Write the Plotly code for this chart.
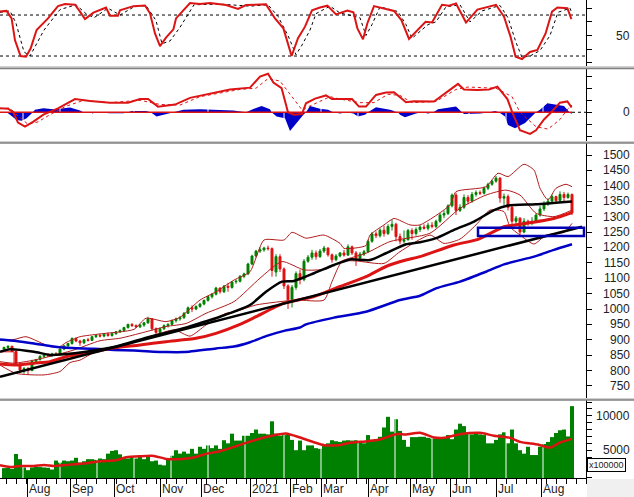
import plotly.graph_objects as go

W, H = 634, 497

# stochastic pane
STOCH_DAY = [0, 3.3, 5.8, 7.5, 10.3, 13, 15.3, 18.3, 24, 29, 32.5, 37.5, 40, 42.5, 46.7, 53, 55, 59, 60, 66.7, 72.5, 75, 77.5, 80, 83, 86.7, 88, 95, 100, 105, 113, 119, 123, 133, 137.5, 141.7, 145.8, 149, 152.5, 156, 160,
             163.7, 168, 173.7, 176.7, 178.7, 181.5, 183.7, 187, 197, 200.7, 204.5, 212.8, 216, 221, 224.5, 228, 233, 238.7, 248, 252, 255.3, 257.8, 261, 265, 268.7, 272.8, 276, 278.7, 283.7, 285.7]
STOCH_K = [85, 86, 75, 43, 20, 19, 31, 58, 75, 93, 96, 95, 85, 74, 83.5, 91, 79, 79, 87, 93, 94, 82.5, 53, 34.6, 47, 59, 75, 97.6, 96, 97.6, 94.7, 89, 94.7, 95.6, 75, 60.5, 20, 46, 63, 87, 91,
           93.7, 81, 86.4, 84, 60.5, 44.4, 68, 93, 86, 72.7, 45, 70, 69, 95, 93.7, 97, 69, 88, 95, 77.6, 48, 19, 15.6, 26, 29, 53, 85, 91, 90, 74]
STOCH_D_DAY = [0, 5, 8, 12, 15, 18, 22, 30, 38, 43, 47, 54, 60, 67, 73, 78, 81, 85, 90, 97, 110, 125, 134, 139, 144, 148, 151, 155, 158, 165, 170, 180, 183, 186, 190, 199, 203, 206, 214, 218, 223, 230, 235, 241, 250, 254, 258, 261, 265, 270, 275, 279, 285, 286]
STOCH_D = [84, 86, 68, 26, 20, 36, 58, 88, 95, 82, 76, 90, 80, 92, 94, 72, 38, 42, 62, 95, 96, 93, 95, 78, 50, 22, 36, 58, 82, 93, 83, 76, 50, 66, 92, 85, 66, 46, 66, 70, 92, 95, 70, 86, 94, 76, 40, 18, 20, 28, 50, 84, 90, 82]
STOCH_LEVELS = [20, 80]

# macd pane
MACD_DAY = [0, 4, 6.7, 9, 12.5, 16.7, 21.7, 29, 37.5, 45, 55, 64, 70, 74, 79, 87.5, 95, 106.7, 115, 125, 130, 134, 136.7, 140.8, 144, 147, 151, 153, 157.5,
            163, 166, 176, 179.5, 183, 188, 193, 197, 203, 207, 217, 223.7, 229, 232, 238.7, 244.5, 248.7, 253.7, 256, 260, 265, 268, 272, 275, 280, 283.7, 285.8]
MACD_LINE = [3.3, 3, 0, -8.6, -12, -7.8, -2, 3.3, 11, 9.4, 8, 8, 11, 11, 4.7, 6.4, 12, 16.4, 19, 20.5, 29.7, 32, 24.7, 20, 0, -2, -1.4, 7.5, 11.4,
             14, 11, 11, 4.7, 4.7, 14.4, 16.4, 16.7, 8.3, 9.2, 8.9, 17, 23.6, 19, 18.6, 19, 21.4, 11, 0.5, -15, -18, -15, -6, -1, 8, 9, 4]
MACD_SIG_DAY = [0, 5, 9, 14, 19, 25, 33, 42, 55, 70, 80, 90, 100, 120, 128, 134, 140, 146, 151, 156, 165, 170, 180, 187, 194, 200, 206, 218, 228, 234, 248, 256, 260, 268, 274, 280, 284, 286]
MACD_SIG = [3, 3.5, -3, -10, -8, -2, 5, 10, 8, 10, 6.5, 6, 13, 19, 20, 28, 26, 13, 2, 6, 13, 11, 8, 8, 15, 14, 8, 9, 19, 21, 20, 13, 0, -12, -14, -6, 3, 6]
HIST_DAY = [3.3, 5, 8.3, 10.8, 13.3, 15.8, 17.5, 21.7, 26.7, 29, 35, 40, 41.7, 45, 46.3, 47.5, 55, 61.7, 64, 65.8, 73, 75.3, 78.3, 83.3, 86.7, 91.7, 100, 116.7, 123, 126.7, 130.8, 135, 135.8, 138.3, 142.5, 145, 148.3, 151.7, 153, 155, 160,
            164, 166.7, 170, 173, 176.7, 179, 182.5, 184, 188, 195, 199, 200, 202.5, 208, 211, 214, 216.7, 219, 228, 231, 232, 240, 245, 247.5, 249.5, 252.5, 254, 257.5, 262.5, 268, 270, 273.7, 282, 284.5, 285.8]
HIST_VAL = [0, -2, -6.4, -7, -5, -1, 2, 3.3, 2.5, 2.8, 3.9, 1.4, 0, 0, -1, 0, -0.8, -0.8, 0, 1, 1, 0, -3.6, -1.4, 0, 2, 2.5, 1.4, 0, 2.8, 5.3, 2.5, 0, -3.6, -5, -15.5, -9, -2, 0, 5.3, 3,
            2, 0, -1, 0, -1, -3.6, -2, 0, 4.2, 2, 0, -2, -4.2, -1, 0, -1, 0, 2.5, 4.7, 0, -1.4, -1, 0, 1, 0, -3.6, -10.5, -13.3, -9, 0, 2, 7.5, 5.3, 0.5, -1.7]

# price pane, one candle per two days
CANDLE_DAY = list(range(2, 288, 2))
OPEN = [870, 875, 879, 862, 822, 802, 806, 800, 830, 836, 846, 850, 848, 854, 852, 870, 880, 888, 904, 896, 890, 900, 898, 910, 914, 912, 918, 914, 920, 926, 930, 940, 950, 946, 942, 948, 955, 968, 936, 924, 936, 946, 950, 962, 968, 972, 986, 1004, 1000, 1008, 1016, 1028, 1040, 1048, 1068, 1056, 1074, 1070, 1088, 1090, 1106, 1114, 1146, 1172, 1188, 1192, 1198, 1196, 1120, 1170, 1130, 1075, 1030, 1070, 1115, 1095, 1155, 1168, 1182, 1170, 1188, 1198, 1176, 1160, 1172, 1182, 1175, 1202, 1182, 1165, 1178, 1186, 1220, 1244, 1238, 1256, 1245, 1268, 1275, 1235, 1220, 1225, 1255, 1245, 1258, 1266, 1262, 1272, 1268, 1285, 1305, 1310, 1335, 1370, 1320, 1330, 1362, 1350, 1372, 1378, 1376, 1392, 1405, 1415, 1425, 1360, 1365, 1330, 1285, 1295, 1250, 1285, 1278, 1285, 1305, 1325, 1342, 1350, 1365, 1352, 1372, 1362, 1372]
HIGH = [878, 882, 880, 864, 826, 812, 812, 835, 838, 850, 852, 856, 858, 860, 872, 884, 890, 908, 908, 900, 902, 906, 912, 918, 920, 922, 924, 924, 928, 934, 942, 952, 954, 950, 952, 958, 975, 970, 940, 940, 950, 954, 966, 972, 978, 990, 1008, 1012, 1012, 1020, 1030, 1042, 1052, 1072, 1070, 1078, 1085, 1090, 1096, 1110, 1118, 1150, 1176, 1192, 1200, 1202, 1206, 1200, 1178, 1178, 1135, 1080, 1078, 1122, 1128, 1162, 1175, 1192, 1190, 1195, 1205, 1200, 1180, 1178, 1185, 1192, 1210, 1206, 1188, 1185, 1192, 1225, 1250, 1252, 1262, 1270, 1275, 1290, 1280, 1245, 1255, 1260, 1262, 1265, 1272, 1275, 1280, 1282, 1290, 1312, 1320, 1340, 1375, 1378, 1340, 1372, 1370, 1380, 1385, 1385, 1398, 1410, 1420, 1432, 1428, 1375, 1372, 1335, 1302, 1298, 1295, 1290, 1298, 1310, 1335, 1350, 1360, 1372, 1368, 1382, 1380, 1378, 1375]
LOW = [868, 872, 860, 818, 795, 790, 788, 798, 826, 832, 840, 844, 846, 850, 848, 866, 876, 884, 892, 880, 886, 894, 896, 906, 908, 908, 910, 910, 916, 922, 926, 936, 942, 938, 938, 942, 952, 930, 918, 920, 932, 940, 948, 956, 962, 968, 984, 990, 996, 1004, 1012, 1024, 1034, 1044, 1050, 1052, 1056, 1066, 1082, 1086, 1100, 1110, 1142, 1168, 1182, 1186, 1190, 1105, 1105, 1120, 1065, 1000, 1005, 1062, 1080, 1090, 1150, 1160, 1160, 1166, 1182, 1170, 1150, 1155, 1168, 1170, 1172, 1175, 1140, 1160, 1172, 1182, 1215, 1230, 1232, 1235, 1240, 1255, 1220, 1210, 1213, 1222, 1225, 1238, 1250, 1258, 1255, 1262, 1262, 1280, 1295, 1305, 1330, 1305, 1315, 1325, 1340, 1345, 1365, 1370, 1372, 1386, 1400, 1410, 1345, 1338, 1320, 1275, 1270, 1235, 1246, 1270, 1272, 1280, 1300, 1318, 1335, 1345, 1345, 1348, 1350, 1358, 1305]
CLOSE = [875, 879, 862, 822, 802, 806, 800, 830, 836, 846, 850, 848, 854, 852, 870, 880, 888, 904, 896, 890, 900, 898, 910, 914, 912, 918, 914, 920, 926, 930, 940, 950, 946, 942, 948, 955, 968, 936, 924, 936, 946, 950, 962, 968, 972, 986, 1004, 1000, 1008, 1016, 1028, 1040, 1048, 1068, 1056, 1074, 1070, 1088, 1090, 1106, 1114, 1146, 1172, 1188, 1192, 1198, 1196, 1125, 1170, 1130, 1075, 1030, 1070, 1115, 1095, 1155, 1168, 1182, 1170, 1188, 1198, 1176, 1160, 1172, 1182, 1175, 1202, 1182, 1165, 1178, 1186, 1220, 1244, 1238, 1256, 1245, 1268, 1275, 1235, 1220, 1225, 1255, 1245, 1258, 1266, 1262, 1272, 1268, 1285, 1305, 1310, 1335, 1370, 1320, 1330, 1362, 1350, 1372, 1378, 1376, 1392, 1405, 1415, 1425, 1360, 1365, 1330, 1285, 1295, 1250, 1285, 1278, 1285, 1305, 1325, 1342, 1350, 1365, 1352, 1372, 1362, 1372, 1312]

MA_BLUE_DAY = [0, 8, 17, 25, 33, 47, 57, 67, 83, 92, 108, 117, 125, 133, 142, 150, 153, 167, 183, 200, 210, 218, 230, 243, 252, 267, 277, 286]
MA_BLUE = [901, 896, 888, 880, 874, 871, 867, 865, 860, 860, 872, 878, 892, 912, 929, 940, 950, 972, 991, 1029, 1043, 1067, 1089, 1121, 1145, 1170, 1192, 1210]
MA_RED_DAY = [0, 8, 17, 25, 33, 43, 55, 70, 83, 98, 108, 120, 128, 142, 157, 170, 183, 193, 203, 210, 227, 239, 252, 260, 277, 286]
MA_RED = [821, 818, 824, 829, 845, 856, 872, 883, 894, 905, 921, 950, 975, 1019, 1040, 1073, 1105, 1138, 1159, 1170, 1208, 1226, 1267, 1275, 1294, 1313]
MA_BLACK_DAY = [0, 5, 17, 25, 32, 43, 58, 75, 90, 100, 110, 125, 133, 141, 147, 157, 167, 175, 185, 193, 203, 210, 218, 227, 237, 247, 254, 268, 286]
MA_BLACK = [861, 869, 861, 851, 853, 861, 878, 910, 934, 954, 975, 1013, 1056, 1089, 1091, 1116, 1143, 1161, 1159, 1181, 1210, 1217, 1230, 1257, 1284, 1321, 1336, 1340, 1349]
TREND_DAY = [0, 291]
TREND = [780, 1267]

BB_UP_DAY = [0, 7, 13, 25, 30, 33, 40, 50, 67, 73, 83, 90, 100, 108, 117, 125, 132, 142, 146, 153, 162, 170, 172, 183, 185, 192, 197, 205, 210, 225, 228, 243, 249, 254, 262, 267, 270, 274, 278, 283, 286]
BB_UP = [899, 901, 910, 878, 878, 891, 910, 919, 934, 970, 959, 973, 1029, 1056, 1094, 1121, 1224, 1224, 1249, 1230, 1240, 1213, 1197, 1206, 1240, 1273, 1294, 1273, 1273, 1338, 1381, 1397, 1441, 1430, 1470, 1451, 1392, 1354, 1392, 1405, 1397]
BB_MID_DAY = [0, 7, 17, 28, 37, 50, 60, 70, 83, 93, 103, 117, 130, 141, 152, 163, 172, 183, 195, 215, 230, 243, 253, 260, 268, 277, 286]
BB_MID = [829, 824, 834, 851, 867, 897, 905, 921, 943, 953, 986, 1024, 1100, 1154, 1127, 1130, 1159, 1181, 1219, 1246, 1327, 1370, 1386, 1370, 1311, 1300, 1321]
BB_LOW_DAY = [0, 8, 22, 30, 35, 40, 48, 58, 70, 87, 95, 103, 113, 117, 128, 148, 162, 166, 171, 178, 192, 200, 215, 222, 230, 238, 245, 252, 255, 260, 267, 273, 282, 286]
BB_LOW = [818, 791, 786, 797, 826, 834, 862, 872, 899, 932, 912, 948, 986, 990, 1013, 1029, 1029, 1089, 1154, 1156, 1148, 1186, 1240, 1213, 1227, 1273, 1321, 1316, 1267, 1240, 1211, 1240, 1249, 1278]
OLD_BOX_DAY = [0, 7, 7, 0]
OLD_BOX = [861, 861, 820, 820]
SUPPORT_DAYS = [239, 292]
SUPPORT_PRICES = [1237, 1264]

# volume pane
VOLUME = [2400, 2450, 2300, 4450, 3700, 2500, 2100, 2500, 2600, 2550, 2500, 2450, 2200, 3500, 3200, 3500, 3400, 3500, 3900, 3200, 3400, 3700, 3700, 3600, 3800, 3700, 4500, 4900, 5000, 4400, 4000, 3800, 4000, 3800, 4100, 3700, 4200, 3400, 3500, 2900, 2800, 3600, 4200, 5000, 4500, 4800, 4500, 5200, 4500, 5500, 5200, 5700, 5300, 5700, 5200, 6450, 6000, 7400, 6400, 6400, 7100, 7100, 7500, 8000, 7400, 7400, 7300, 9200, 7400, 7100, 7200, 7400, 6500, 5000, 6400, 5000, 5700, 5700,
          5300, 5200, 5700, 6000, 6450, 6300, 6200, 6400, 6450, 6400, 6450, 6300, 6000, 7200, 6500, 6600, 6950, 8300, 9850, 7700, 9500, 7800, 6500, 5500, 6900, 6900, 6950, 6950, 6800, 6700, 6700, 6700, 6700, 7200, 6600, 8000, 8850, 8500, 7500, 7300, 7400, 7300, 7200, 6000, 6000, 6500, 7300, 7600, 6000, 8000, 6000, 5000, 4500, 5500, 4300, 4300, 5500, 5900, 6200, 6900, 7500, 7900, 8000, 7000, 11400, 4300]
VOL_MA_DAY = [0, 5, 10, 17, 22, 27, 33, 43, 50, 58, 63, 70, 77, 83, 91, 98, 103, 110, 117, 123, 132, 137, 143, 150, 157, 162, 169, 175, 184, 190, 198, 203, 210, 217, 222, 230, 240, 247, 255, 260, 269, 275, 280, 286]
VOL_MA = [2812, 2569, 2715, 2715, 2860, 2715, 2860, 3104, 3395, 3541, 3978, 4124, 4173, 3735, 3735, 4027, 4464, 4853, 5485, 6068, 6846, 7186, 7429, 6846, 6165, 5728, 5728, 6068, 6311, 6554, 7332, 7283, 7526, 6846, 6797, 7332, 7526, 7089, 6797, 6214, 5825, 5388, 6117, 6651]

# axes
MONTH_DAY = [13.7, 35, 57, 80, 100.5, 125, 145, 160.5, 184, 205, 225, 248, 270.5]
MONTH_LABEL = ["Aug", "Sep", "Oct", "Nov", "Dec", "2021", "Feb", "Mar", "Apr", "May", "Jun", "Jul", "Aug"]
GRID_DAY = [11.5, 30, 48.5, 67, 85.5, 104, 122.5, 142, 160.5, 179, 197.5, 216, 234.5, 253, 271.5]
PRICE_TICKS = list(range(750, 1501, 50))
STOCH_TICKS = [10, 30, 50, 70, 90]
MACD_TICKS = [-20, -10, 0, 10, 20, 30]
VOL_TICKS = list(range(1000, 13000, 1000))

RED = "#dc1414"
DARK_RED = "#b01c1c"
GREEN = "#008000"
BLUE = "#0000c8"
FONT = "Liberation Sans"
SHORT_DASH = "3px,3px"


def line(x, y, axis, color, width=1, dash="solid", smooth=False):
    style = dict(color=color, width=width, dash=dash)
    if smooth:
        style.update(shape="spline", smoothing=0.6)
    return go.Scatter(x=x, y=y, yaxis=axis, mode="lines", hoverinfo="skip", showlegend=False, line=style)


def white_grid(axis, lo, hi):
    # thin white date gridlines that cut through the filled marks
    xs, ys = [], []
    for d in GRID_DAY:
        xs += [d, d, None]
        ys += [lo, hi, None]
    return line(xs, ys, axis, "white", 1)


def dom(top, bottom):
    return [1 - bottom / H, 1 - top / H]


fig = go.Figure()

# stochastic
fig.add_trace(line([0, 293], [STOCH_LEVELS[1]] * 2, "y", "black", 1, SHORT_DASH))
fig.add_trace(line([0, 293], [STOCH_LEVELS[0]] * 2, "y", "black", 1, SHORT_DASH))
fig.add_trace(line(STOCH_D_DAY, STOCH_D, "y", "black", 1, "dot"))
fig.add_trace(line(STOCH_DAY, STOCH_K, "y", RED, 2))

# macd
fig.add_trace(go.Scatter(x=HIST_DAY, y=HIST_VAL, yaxis="y2", mode="none", fill="tozeroy", fillcolor=BLUE,
                         hoverinfo="skip", showlegend=False))
fig.add_trace(white_grid("y2", -10, 10))
fig.add_trace(line([286, 293], [0, 0], "y2", "black", 1, SHORT_DASH))
fig.add_trace(line([0, 286], [0, 0], "y2", RED, 1.5))
fig.add_trace(line(MACD_SIG_DAY, MACD_SIG, "y2", RED, 1, "dot"))
fig.add_trace(line(MACD_DAY, MACD_LINE, "y2", RED, 2))

# price
fig.add_trace(go.Candlestick(x=CANDLE_DAY, open=OPEN, high=HIGH, low=LOW, close=CLOSE, yaxis="y3",
                             increasing=dict(line=dict(color=GREEN, width=1), fillcolor=GREEN),
                             decreasing=dict(line=dict(color="#e01010", width=1), fillcolor="#e01010"),
                             whiskerwidth=0, showlegend=False, hoverinfo="skip"))
fig.add_trace(line(BB_UP_DAY, BB_UP, "y3", DARK_RED, 1, smooth=True))
fig.add_trace(line(BB_MID_DAY, BB_MID, "y3", DARK_RED, 1, smooth=True))
fig.add_trace(line(BB_LOW_DAY, BB_LOW, "y3", DARK_RED, 1, smooth=True))
fig.add_trace(line(OLD_BOX_DAY, OLD_BOX, "y3", "#e01010", 1))
fig.add_trace(line(MA_BLUE_DAY, MA_BLUE, "y3", BLUE, 2.5, smooth=True))
fig.add_trace(line(MA_RED_DAY, MA_RED, "y3", RED, 3, smooth=True))
fig.add_trace(line(TREND_DAY, TREND, "y3", "black", 2.5))
fig.add_trace(line(MA_BLACK_DAY, MA_BLACK, "y3", "black", 2.5, smooth=True))

# volume
fig.add_trace(go.Bar(x=CANDLE_DAY, y=VOLUME, yaxis="y4", width=2, marker=dict(color=GREEN, line=dict(width=0)),
                     hoverinfo="skip", showlegend=False))
fig.add_trace(white_grid("y4", 900, 13000))
fig.add_trace(line(VOL_MA_DAY, VOL_MA, "y4", RED, 2.5, smooth=True))


def yaxis(domain, rng, ticks):
    return dict(domain=domain, range=rng, anchor="x", side="right", showgrid=False, zeroline=False,
                showline=True, linecolor="black", linewidth=1, ticks="outside", ticklen=5,
                tickcolor="black", tickvals=ticks, showticklabels=False, fixedrange=True)


fig.update_layout(
    width=W, height=H, margin=dict(l=0, r=0, t=0, b=0), autosize=False,
    paper_bgcolor="white", plot_bgcolor="white", showlegend=False, barmode="overlay",
    font=dict(family=FONT, size=12, color="#222222"),
    xaxis=dict(domain=[0, 586 / W], range=[0, 293], anchor="y4", showgrid=False, zeroline=False,
               showline=True, linecolor="black", linewidth=1, rangeslider=dict(visible=False),
               tickmode="array", tickvals=MONTH_DAY, ticktext=[""] * len(MONTH_DAY), ticks="outside",
               ticklen=19, tickcolor="black",
               minor=dict(tick0=3, dtick=5, ticks="outside", ticklen=5, tickcolor="black", showgrid=False)),
    yaxis=yaxis(dom(0, 66), [5.4, 102], STOCH_TICKS),
    yaxis2=yaxis(dom(69, 141), [-23.9, 36], MACD_TICKS),
    yaxis3=yaxis(dom(143, 398), [711, 1539], PRICE_TICKS),
    yaxis4=yaxis(dom(400, 478), [965, 12290], VOL_TICKS),
)

shapes = []
# pane separators
for y0, y1 in [(66, 68.5), (141, 143), (398, 400)]:
    shapes.append(dict(type="rect", xref="paper", yref="paper", x0=0, x1=1, y0=1 - y1 / H, y1=1 - y0 / H,
                       fillcolor="#d0d0d0", line=dict(width=0)))
    shapes.append(dict(type="line", xref="paper", yref="paper", x0=0, x1=1, y0=1 - y1 / H, y1=1 - y1 / H,
                       line=dict(color="#808080", width=1.5)))
# corner under the value axis
shapes.append(dict(type="rect", xref="paper", yref="paper", x0=587 / W, x1=1, y0=0, y1=1 - 479 / H,
                   fillcolor="#f0f0f0", line=dict(width=0)))
# support box
shapes.append(dict(type="rect", xref="x", yref="y3", x0=SUPPORT_DAYS[0], x1=SUPPORT_DAYS[1],
                   y0=SUPPORT_PRICES[0], y1=SUPPORT_PRICES[1], line=dict(color="#0000b4", width=2.5)))
fig.update_layout(shapes=shapes)

anns = []
for d, label in zip(MONTH_DAY, MONTH_LABEL):
    anns.append(dict(x=d, xref="x", xanchor="left", xshift=0, y=0, yref="paper", yanchor="bottom",
                     yshift=-1, text=label, showarrow=False, font=dict(size=12, color="#222222")))
for axis, vals in [("y", [50]), ("y2", [0]), ("y3", PRICE_TICKS), ("y4", [5000, 10000])]:
    for v in vals:
        anns.append(dict(x=632 / W, xref="paper", xanchor="right", y=v, yref=axis, text=str(v), showarrow=False,
                         font=dict(size=12, color="#222222")))
# scale note
anns.append(dict(x=606.5 / W, xref="paper", xanchor="center", y=1 - 472 / H, yref="paper", text="x100000",
                 showarrow=False, font=dict(size=9, color="#222222"), bgcolor="white",
                 bordercolor="black", borderwidth=1, borderpad=1))
fig.update_layout(annotations=anns)

fig.write_html("out.html", config={"displayModeBar": False}, post_script="document.body.style.margin='0';")
